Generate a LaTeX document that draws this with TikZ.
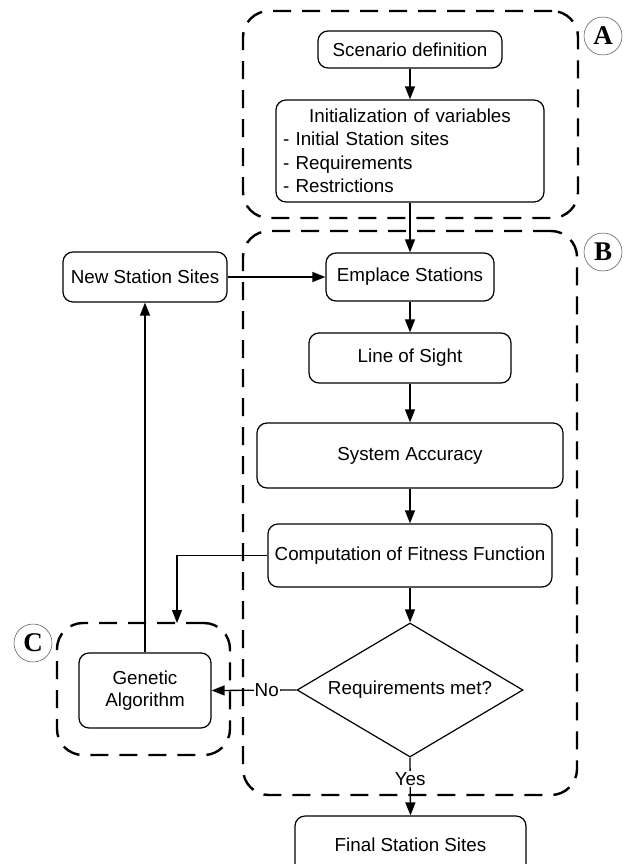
\documentclass[tikz,border=0pt]{standalone}
\usepackage{fontspec}
\setmainfont{Liberation Sans}
\newfontfamily\serifbf{Liberation Serif}
\usetikzlibrary{arrows.meta,shapes.geometric}
\begin{document}
\begin{tikzpicture}[x=1pt,y=-1pt,
  box/.style={draw, line width=1.2pt, rounded corners=10pt, align=center, inner sep=0pt, font=\fontsize{18.8}{22}\selectfont},
  grp/.style={draw, line width=2.4pt, dash pattern=on 18pt off 11pt, rounded corners=26pt, inner sep=0pt},
  arr/.style={line width=1.3pt, -{Triangle[length=13pt,width=10pt]}},
  tag/.style={circle, draw=black!70, line width=0.5pt, minimum size=38pt, inner sep=0pt, font=\serifbf\bfseries\fontsize{27}{27}\selectfont},
  lbl/.style={fill=white, inner sep=1pt, font=\fontsize{18.8}{22}\selectfont}
]
\clip (0,0) rectangle (627,864);
\fill[white] (0,0) rectangle (627,864);

% groups
\node[grp, minimum width=335pt, minimum height=207pt] (grpA) at (410.5,114.5) {};
\node[grp, minimum width=334pt, minimum height=564pt] (grpB) at (410,513) {};
\node[grp, minimum width=173pt, minimum height=132pt] (grpC) at (143.5,689) {};

\node[tag] (tA) at (603,36) {A};
\node[tag] (tB) at (603,252) {B};
\node[tag] (tC) at (33,643) {C};

% boxes
\node[box, minimum width=184pt, minimum height=37pt] (scen) at (410,49.5) {Scenario definition};
\node[box, minimum width=268pt, minimum height=102pt, text width=254pt, align=left,
      font=\fontsize{18.8}{23.5}\selectfont] (init) at (410,151)
  {\makebox[254pt][c]{Initialization of variables}\\- Initial Station sites\\- Requirements\\- Restrictions};
\node[box, minimum width=164pt, minimum height=50pt] (new) at (145,277) {New Station Sites};
\node[box, minimum width=168pt, minimum height=48pt] (emp) at (410,277) {Emplace Stations};
\node[box, minimum width=202pt, minimum height=50pt] (los) at (410,358) {Line of Sight};
\node[box, minimum width=306pt, minimum height=65pt] (sys) at (410,455.5) {System Accuracy};
\node[box, minimum width=284pt, minimum height=63pt] (comp) at (410,555.5) {Computation of Fitness Function};
\node[draw, diamond, aspect=1.687, minimum width=226pt, minimum height=134pt, inner sep=0pt,
      line width=1.2pt, font=\fontsize{18.8}{22}\selectfont] (dia) at (410,690) {Requirements met?};
\node[box, minimum width=132pt, minimum height=75pt] (ga) at (145,690.5) {Genetic\\Algorithm};
\node[box, minimum width=231pt, minimum height=58pt] (fin) at (410.5,845) {Final Station Sites};

\coordinate (cin) at (177,623);

% connectors
\draw[arr] (scen) -- (init);
\draw[arr] (init) -- (emp);
\draw[arr] (new) -- (emp);
\draw[arr] (emp) -- (los);
\draw[arr] (los) -- (sys);
\draw[arr] (sys) -- (comp);
\draw[arr] (comp) -- (dia);
\draw[arr] (dia.south) -- node[lbl, pos=0.37] {Yes} (fin.north);
\draw[arr] (dia.west) -- node[lbl, pos=0.35] {No} (ga.east);
\draw[arr] (comp.west) -| (cin);
\draw[arr] (ga.north) -- (new.south);
\end{tikzpicture}
\end{document}
